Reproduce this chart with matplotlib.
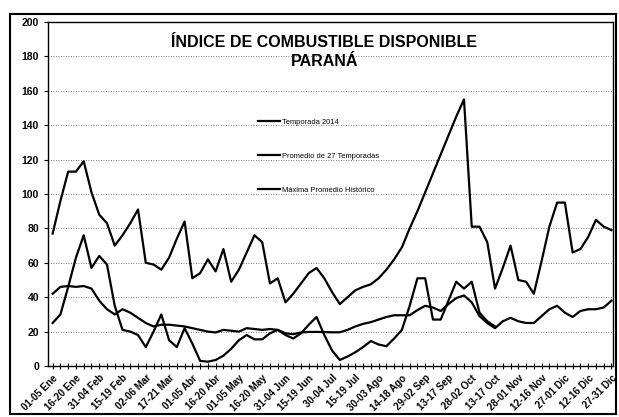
import numpy as np
import matplotlib
matplotlib.use('Agg')
import matplotlib.pyplot as plt
from matplotlib.patches import Rectangle

# week labels (every third pentad is labelled)
tick_labels = ['01-05 Ene', '16-20 Ene', '31-04 Feb', '15-19 Feb', '02-06 Mar',
               '17-21 Mar', '01-05 Abr', '16-20 Abr', '01-05 May', '16-20 May',
               '31-04 Jun', '15-19 Jun', '30-04 Jul', '15-19 Jul', '30-03 Ago',
               '14-18 Ago', '29-02 Sep', '13-17 Sep', '28-02 Oct', '13-17 Oct',
               '28-01 Nov', '12-16 Nov', '27-01 Dic', '12-16 Dic', '27-31 Dic']

temporada_2014 = [25, 30, 46, 63, 76, 57, 64, 59, 35, 21, 20, 18, 11, 20, 30,
                  15, 11, 22, 13, 3, 2.5, 3.5, 6, 10, 15, 18, 15.5, 15.5, 19, 21,
                  18, 16, 19, 24, 28.5, 18, 9, 3.5, 5.5, 8, 11, 14.5, 12.5, 11.5, 16,
                  21, 35, 51, 51, 27, 27, 38, 49, 45, 49, 31, 26, 23]

promedio_27 = [42, 46, 46.5, 46, 46.5, 45, 38, 33, 30, 33, 31, 28, 25, 23, 24,
               24, 23.5, 23, 22, 21, 20, 19.5, 21, 20.5, 20, 22, 21.5, 21, 21.5, 21,
               19, 18.5, 19.5, 19.8, 19.8, 19.7, 19.6, 19.6, 21, 23, 24.5, 25.5, 27, 28.5, 29.5,
               29.5, 29.5, 32.5, 35, 34, 32, 36, 39.5, 41, 37, 29, 25, 22, 26, 28,
               26, 25, 25, 29, 33, 35, 31, 28.5, 32, 33, 33, 34, 38]

maximo_hist = [77, 96, 113, 113, 119, 101, 88, 83, 70, 76, 83, 91, 60, 59, 56,
               63, 74, 84, 51, 54, 62, 55, 68, 49, 56, 66, 76, 72, 48, 51,
               37, 42, 48, 54, 57, 51, 43, 36, 40, 44, 46, 47.5, 51, 56, 62,
               69, 80, 90, 101, 112, 123, 134, 145, 155, 81, 81, 72, 45, 57, 70,
               50, 49, 42, 61, 81, 95, 95, 66, 68, 75, 85, 81, 79]

labels = ['Temporada 2014', 'Promedio de 27 Temporadas', 'Máxima Promedio Histórico']

plt.rcParams['font.family'] = ['Liberation Sans', 'DejaVu Sans']

fig = plt.figure(figsize=(6.19, 4.17), dpi=100)
ax = fig.add_axes([48 / 619, 1 - 366 / 417, 565 / 619, 344 / 417])

n = len(maximo_hist)
x_all = np.arange(n)
ax.plot(np.arange(len(temporada_2014)), temporada_2014, color='black', lw=1.6,
        label=labels[0])
ax.plot(x_all, promedio_27, color='black', lw=1.6, label=labels[1])
ax.plot(x_all, maximo_hist, color='black', lw=1.6, label=labels[2])

ax.set_xlim(-0.6, 72.2)
ax.set_ylim(0, 200)
ax.set_yticks(np.arange(0, 201, 20))
ax.yaxis.grid(True, ls=(0, (1, 2)), color='#555555', lw=0.6)
ax.set_xticks(np.arange(0, n, 3))
ax.set_xticks(np.arange(n), minor=True)
ax.set_xticklabels(tick_labels, rotation=45, ha='right', rotation_mode='anchor',
                   fontsize=7, fontweight='bold')
ax.tick_params(axis='x', which='both', direction='inout', length=4, width=0.8, pad=3)
ax.tick_params(axis='y', direction='out', length=3, labelsize=7.5)
for t in ax.get_yticklabels():
    t.set_fontweight('bold')
for s in ax.spines.values():
    s.set_linewidth(1.0)

ax.text(0.489, 0.962, 'ÍNDICE DE COMBUSTIBLE DISPONIBLE\nPARANÁ', transform=ax.transAxes,
        ha='center', va='top', fontsize=11.5, fontweight='bold', linespacing=1.35)

ax.legend(loc='upper left', bbox_to_anchor=(0.372, 0.72), frameon=False,
          fontsize=5.4, handlelength=2.9, labelspacing=3.6, borderpad=0,
          borderaxespad=0, handletextpad=0.3)

# outer frame of the scanned chart
fig.patches.append(Rectangle((10 / 619, 3 / 417), 606 / 619, 400 / 417,
                             transform=fig.transFigure, fill=False,
                             edgecolor='black', lw=1.5))

fig.savefig('out.png', dpi=100)
